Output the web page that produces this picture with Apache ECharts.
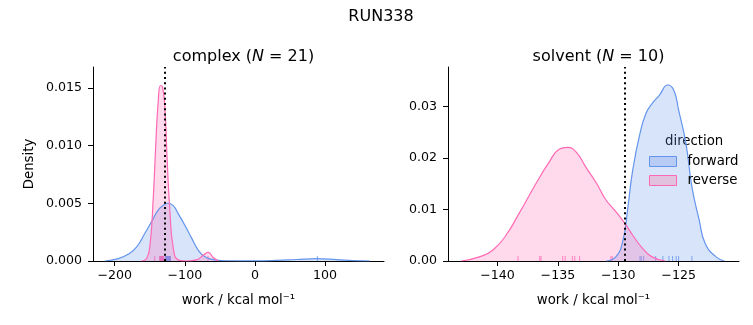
<!DOCTYPE html>
<html>
<head>
<meta charset="utf-8">
<script src="https://cdn.jsdelivr.net/npm/echarts@6/dist/echarts.min.js"></script>
<style>
  html, body { margin: 0; padding: 0; background: #fff; }
  #chart { width: 753px; height: 325px; }
</style>
</head>
<body>
<div id="chart"></div>
<script>
// KDE curves: [work, density]
var complexForward = [[-214, 0], [-195, 0.0002], [-181, 0.00058], [-169, 0.0012], [-157, 0.0024],
    [-147.6, 0.0034], [-138.1, 0.0044], [-131, 0.0048], [-124.8, 0.005], [-116.7, 0.0048],
    [-109.5, 0.0041], [-100, 0.0031], [-90.5, 0.002], [-81, 0.00095], [-71.4, 0.00037],
    [-57, 0.0001], [-38, 0.00002], [0, 0.00001], [31, 0.00005], [59.5, 0.00013], [88, 0.0002],
    [116.7, 0.00012], [140, 0.00004], [164, 0]];
var complexReverse = [[-162, 0], [-154.8, 0.0002], [-150, 0.0012], [-145.2, 0.0053], [-141.4, 0.0102],
    [-138.1, 0.0137], [-134.8, 0.0152], [-132, 0.0151], [-128.6, 0.0134], [-125.2, 0.0087],
    [-121.4, 0.0044], [-116.7, 0.0012], [-109.5, 0.0001], [-97.6, 0], [-83.3, 0.0001],
    [-73.8, 0.0005], [-66.7, 0.00075], [-59.5, 0.0003], [-52.4, 0]];
var solventForward = [[-131.0, 0], [-130.2, 0.0008], [-129.6, 0.0041], [-129.2, 0.0105], [-128.8, 0.0177],
    [-128.2, 0.0248], [-127.7, 0.0287], [-127.2, 0.0306], [-126.6, 0.0322], [-125.9, 0.0342],
    [-125.4, 0.0332], [-125.0, 0.0293], [-124.4, 0.0229], [-123.9, 0.0144], [-123.3, 0.008],
    [-122.8, 0.0034], [-121.9, 0.0008], [-121.2, 0]];
var solventReverse = [[-143.0, 0], [-141.5, 0.0008], [-140.4, 0.0021], [-139.3, 0.005], [-138.2, 0.0093],
    [-136.8, 0.0151], [-135.7, 0.0193], [-134.9, 0.0217], [-134.2, 0.0221], [-133.5, 0.0212],
    [-132.7, 0.0183], [-131.8, 0.0151], [-131.0, 0.0118], [-130.2, 0.0096], [-129.45, 0.0073],
    [-128.8, 0.005], [-128.0, 0.0025], [-127.2, 0.0008], [-126.1, 0]];

// rug positions
var complexForwardRug = [-127.5, -127, -126.5, -126, -125.8, -125.5, -125.2, -125, -124.6, -124.2, -124,
    -123.6, -123.3, -123, -122.6, -122.2, -121.8, -121.4, -121, -120.5, 89];
var complexReverseRug = [-143, -136, -135.5, -135, -134.7, -134.4, -134, -133.7, -133.4, -133.1, -132.8,
    -132.5, -132.2, -132, -131.7, -131.4, -131, -130.6, -130.3, -130, -67];
var solventForwardRug = [-128.2, -128.1, -127.9, -126.9, -126.3, -125.8, -125.5, -125.2, -125.0, -123.9];
var solventReverseRug = [-138.3, -136.5, -136.4, -134.6, -134.4, -133.8, -133.6, -133.2, -130.6, -130.5];

// mean work (dotted line)
var complexMean = -128.6;
var solventMean = -129.45;

var complexTicksX = [-200, -100, 0, 100];
var complexTicksY = [0, 0.005, 0.01, 0.015];
var solventTicksX = [-140, -135, -130, -125];
var solventTicksY = [0, 0.01, 0.02, 0.03];

var blue = '#6495ED';
var pink = '#FF69B4';
var font = 'DejaVu Sans';
var tickSize = 12.6;
var labelSize = 13.3;

function minus(v) { return String(v).replace('-', '\u2212'); }
function rug(vals) { return vals.map(function (v) { return [v, 0]; }); }

function xAxis(idx, min, max, ticks) {
    return {
        type: 'value', gridIndex: idx, min: min, max: max,
        name: 'work / kcal mol\u207B\u00B9', nameLocation: 'middle', nameGap: 33,
        nameTextStyle: {color: '#000', fontSize: labelSize, fontFamily: font},
        axisLine: {onZero: false, lineStyle: {color: '#000', width: 1}},
        axisTick: {customValues: ticks, length: 5, lineStyle: {color: '#000'}},
        axisLabel: {customValues: ticks, formatter: minus, color: '#000', fontSize: tickSize, fontFamily: font, margin: 8},
        splitLine: {show: false}
    };
}
function yAxis(idx, max, ticks, digits, name) {
    return {
        type: 'value', gridIndex: idx, min: 0, max: max,
        name: name, nameLocation: 'middle', nameGap: 57,
        nameTextStyle: {color: '#000', fontSize: labelSize, fontFamily: font},
        axisLine: {show: true, onZero: false, lineStyle: {color: '#000', width: 1}},
        axisTick: {show: true, customValues: ticks, length: 5, lineStyle: {color: '#000'}},
        axisLabel: {customValues: ticks, formatter: function (v) { return v.toFixed(digits); },
            color: '#000', fontSize: tickSize, fontFamily: font, margin: 11},
        splitLine: {show: false}
    };
}
function kde(name, idx, data, color, mean) {
    var s = {
        name: name, type: 'line', xAxisIndex: idx, yAxisIndex: idx, data: data,
        smooth: 0.5, showSymbol: false, silent: true,
        lineStyle: {color: color, width: 1.2},
        itemStyle: {color: color},
        areaStyle: {color: color, opacity: 0.25}
    };
    if (mean !== undefined) {
        s.markLine = {
            silent: true, symbol: 'none', label: {show: false},
            lineStyle: {color: '#000', type: [2, 3.2], width: 2},
            data: [{xAxis: mean}]
        };
    }
    return s;
}
function rugSeries(name, idx, vals, color) {
    return {
        name: name, type: 'scatter', xAxisIndex: idx, yAxisIndex: idx, data: rug(vals),
        symbol: 'rect', symbolSize: [1, 5], symbolOffset: [0, -2.5], silent: true,
        itemStyle: {color: color, opacity: 0.8}
    };
}

var myChart = echarts.init(document.getElementById('chart'));
option = {
    animation: false,
    textStyle: {fontFamily: font},
    title: [
        {text: 'RUN338', left: 376, top: 4, textAlign: 'center',
            textStyle: {fontSize: 16, fontWeight: 'normal', color: '#000', fontFamily: font}},
        {text: 'complex ({i|N} = 21)', left: 238.5, top: 44, textAlign: 'center',
            textStyle: {fontSize: 16, fontWeight: 'normal', color: '#000', fontFamily: font,
                rich: {i: {fontSize: 16, fontStyle: 'italic', color: '#000', fontFamily: font}}}},
        {text: 'solvent ({i|N} = 10)', left: 593.5, top: 44, textAlign: 'center',
            textStyle: {fontSize: 16, fontWeight: 'normal', color: '#000', fontFamily: font,
                rich: {i: {fontSize: 16, fontStyle: 'italic', color: '#000', fontFamily: font}}}}
    ],
    graphic: [{
        type: 'text', left: 665, top: 135,
        style: {text: 'direction', fontSize: labelSize, fontFamily: font, fill: '#000'}
    }],
    legend: {
        left: 649, top: 155, orient: 'vertical', itemWidth: 27, itemHeight: 10, itemGap: 6,
        padding: 0, icon: 'rect', selectedMode: false,
        textStyle: {color: '#000', fontSize: labelSize, fontFamily: font, padding: [0, 0, 0, 6]},
        data: [
            {name: 'forward', itemStyle: {color: '#b7cbf4', borderColor: blue, borderWidth: 1}},
            {name: 'reverse', itemStyle: {color: '#e2c1df', borderColor: pink, borderWidth: 1}}
        ]
    },
    grid: [
        {left: 93, right: 369, top: 67, bottom: 64},
        {left: 448, right: 14, top: 67, bottom: 64}
    ],
    xAxis: [
        xAxis(0, -231, 184, complexTicksX),
        xAxis(1, -144.1, -120.0, solventTicksX)
    ],
    yAxis: [
        yAxis(0, 0.0168, complexTicksY, 3, 'Density'),
        yAxis(1, 0.0377, solventTicksY, 2, '')
    ],
    series: [
        kde('forward', 0, complexForward, blue, complexMean),
        kde('reverse', 0, complexReverse, pink),
        rugSeries('forward', 0, complexForwardRug, blue),
        rugSeries('reverse', 0, complexReverseRug, pink),
        kde('forward', 1, solventForward, blue, solventMean),
        kde('reverse', 1, solventReverse, pink),
        rugSeries('forward', 1, solventForwardRug, blue),
        rugSeries('reverse', 1, solventReverseRug, pink)
    ]
};
myChart.setOption(option);
window.onresize = myChart.resize;
</script>
</body>
</html>
